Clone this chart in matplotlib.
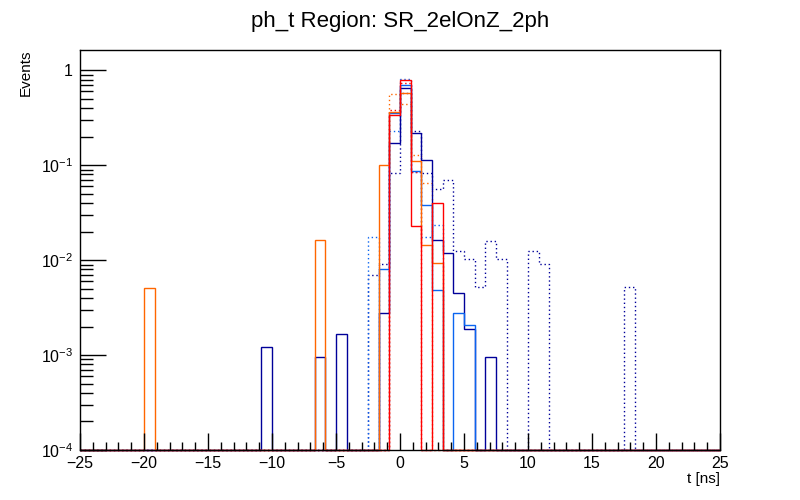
import numpy as np
import matplotlib
matplotlib.use("Agg")
import matplotlib.pyplot as plt
from matplotlib.ticker import FixedLocator, FuncFormatter, MultipleLocator

plt.rcParams["font.family"] = ["Liberation Sans", "DejaVu Sans"]
plt.rcParams["mathtext.fontset"] = "custom"
plt.rcParams["mathtext.rm"] = "Liberation Sans"
plt.rcParams["mathtext.it"] = "Liberation Sans:italic"

# 60 bins from -25 to 25 ns
n_bins = 60
t_lo, t_hi = -25.0, 25.0

# (bin index, content) per sample
navy_bins = [17, 22, 24, 28, 29, 30, 31, 32, 33, 34, 35, 36, 38]
navy_vals = [0.00121, 0.00095, 0.00165, 0.0028, 0.171, 0.658, 0.221, 0.115,
             0.0165, 0.0118, 0.00453, 0.00188, 0.00095]

blue_bins = [28, 29, 30, 31, 32, 33, 35, 36]
blue_vals = [0.008, 0.355, 0.70, 0.088, 0.0385, 0.0048, 0.00275, 0.00206]

orange_bins = [6, 22, 28, 29, 30, 31, 32, 33]
orange_vals = [0.0051, 0.0162, 0.1016, 0.36, 0.583, 0.112, 0.0144, 0.0093]

red_bins = [29, 30, 31, 33]
red_vals = [0.336, 0.80, 0.0228, 0.0404]

navy_dot_bins = [27, 28, 29, 30, 31, 32, 33, 34, 35, 36, 37, 38, 39, 42, 43, 51]
navy_dot_vals = [0.0069, 0.0092, 0.0838, 0.58, 0.232, 0.0838, 0.0569, 0.0695,
                 0.01245, 0.0104, 0.00528, 0.0161, 0.0104, 0.01245, 0.0092, 0.00528]

blue_dot_bins = [27, 29, 30, 31, 32, 33]
blue_dot_vals = [0.0176, 0.232, 0.82, 0.0855, 0.0175, 0.0233]

orange_dot_bins = [29, 30, 31, 32]
orange_dot_vals = [0.569, 0.446, 0.1288, 0.0658]

red_dot_bins = [29, 30, 31]
red_dot_vals = [0.386, 0.73, 0.0855]

c_navy = "#000099"
c_blue = "#0a64f0"
c_orange = "#ff6600"
c_red = "#ff0000"

ymin, ymax = 1e-4, 1.64
edges = np.linspace(t_lo, t_hi, n_bins + 1)


def fill(bins, vals):
    h = np.full(n_bins, ymin)
    h[np.array(bins)] = vals
    return h


hists = [
    (navy_dot_bins, navy_dot_vals, c_navy, (0, (1, 2))),
    (blue_dot_bins, blue_dot_vals, c_blue, (0, (1, 2))),
    (orange_dot_bins, orange_dot_vals, c_orange, (0, (1, 2))),
    (red_dot_bins, red_dot_vals, c_red, (0, (1, 2))),
    (navy_bins, navy_vals, c_navy, "-"),
    (blue_bins, blue_vals, c_blue, "-"),
    (orange_bins, orange_vals, c_orange, "-"),
    (red_bins, red_vals, c_red, "-"),
]

fig = plt.figure(figsize=(8, 5), dpi=100)
ax = fig.add_axes([0.1, 0.1, 0.8, 0.8])

for bins, vals, col, ls in hists:
    ax.stairs(fill(bins, vals), edges, baseline=None, color=col,
              linestyle=ls, linewidth=1.0, clip_on=False)

ax.set_yscale("log")
ax.set_xlim(t_lo, t_hi)
ax.set_ylim(ymin, ymax)

ax.xaxis.set_major_locator(MultipleLocator(5))
ax.xaxis.set_minor_locator(MultipleLocator(1))
ax.yaxis.set_major_locator(FixedLocator([1e-4, 1e-3, 1e-2, 1e-1, 1]))
ax.yaxis.set_minor_locator(FixedLocator(
    [m * 10.0 ** e for e in range(-4, 1) for m in range(2, 10)]))


def ylab(v, pos):
    if abs(v - 1) < 1e-9:
        return "1"
    return r"$10^{%d}$" % int(round(np.log10(v)))


def xlab(v, pos):
    return ("%d" % v).replace("-", "\u2212")


ax.yaxis.set_major_formatter(FuncFormatter(ylab))
ax.xaxis.set_major_formatter(FuncFormatter(xlab))

ax.tick_params(axis="x", which="major", direction="in", length=12, width=1,
               labelsize=11.5, pad=4)
ax.tick_params(axis="x", which="minor", direction="in", length=6, width=1)
ax.tick_params(axis="y", which="major", direction="in", length=19, width=1,
               labelsize=11.5, pad=5)
ax.tick_params(axis="y", which="minor", direction="in", length=9, width=1)
for s in ax.spines.values():
    s.set_linewidth(1)

fig.text(0.5, 0.958, "ph_t Region: SR_2elOnZ_2ph", ha="center", va="center",
         fontsize=16)
fig.text(0.9, 0.042, "t [ns]", ha="right", va="center", fontsize=11)
fig.text(0.032, 0.9, "Events", ha="center", va="top", rotation=90, fontsize=11)

fig.savefig("out.png", dpi=100)
